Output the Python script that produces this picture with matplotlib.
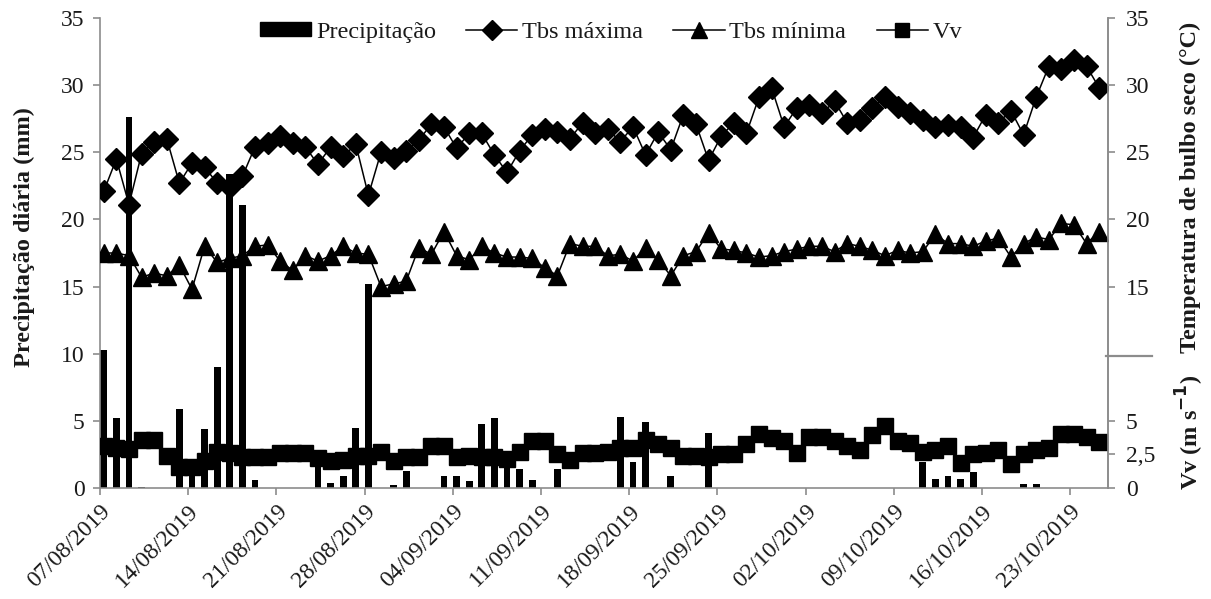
import numpy as np
import pandas as pd
import matplotlib
matplotlib.use("Agg")
import matplotlib.pyplot as plt
import matplotlib.dates as mdates
from matplotlib.patches import Patch
from matplotlib.lines import Line2D
import matplotlib.transforms as mtransforms

plt.rcParams['font.family'] = ['Liberation Serif', 'DejaVu Serif']

start_date = "2019-08-07"
n_days = 80
dates = pd.date_range(start_date, periods=n_days, freq="D")

tbs_max = [22.1, 24.5, 21.1, 24.9, 25.8, 26.0, 22.7, 24.2, 23.9, 22.7,
           22.4, 23.2, 25.4, 25.7, 26.2, 25.7, 25.4, 24.1, 25.4, 24.7,
           25.6, 21.8, 25.0, 24.6, 25.1, 25.9, 27.1, 26.9, 25.3, 26.4,
           26.4, 24.8, 23.5, 25.1, 26.3, 26.7, 26.5, 26.0, 27.2, 26.4,
           26.7, 25.8, 26.9, 24.8, 26.5, 25.2, 27.8, 27.1, 24.4, 26.2,
           27.2, 26.4, 29.1, 29.8, 26.9, 28.3, 28.5, 27.9, 28.8, 27.2,
           27.4, 28.3, 29.1, 28.4, 27.9, 27.4, 26.9, 27.0, 26.9, 26.1,
           27.8, 27.2, 28.1, 26.3, 29.1, 31.4, 31.2, 31.9, 31.4, 29.8]

tbs_min = [17.5, 17.5, 17.3, 15.7, 16.0, 15.8, 16.6, 14.8, 18.0, 16.8,
           17.1, 17.3, 18.0, 18.1, 16.9, 16.2, 17.3, 16.9, 17.3, 18.0,
           17.5, 17.4, 15.0, 15.2, 15.4, 17.9, 17.4, 19.1, 17.3, 17.0,
           18.0, 17.5, 17.2, 17.2, 17.1, 16.4, 15.8, 18.2, 18.0, 18.0,
           17.3, 17.4, 16.9, 17.9, 17.0, 15.8, 17.3, 17.6, 19.0, 17.8,
           17.7, 17.5, 17.2, 17.3, 17.6, 17.8, 18.0, 18.0, 17.6, 18.2,
           18.0, 17.7, 17.3, 17.7, 17.5, 17.6, 18.9, 18.2, 18.2, 18.0,
           18.4, 18.6, 17.2, 18.2, 18.7, 18.5, 19.7, 19.6, 18.2, 19.1]

vv = [3.15, 3.0, 2.9, 3.55, 3.55, 2.4, 1.6, 1.6, 2.0, 2.65,
      2.6, 2.3, 2.3, 2.3, 2.6, 2.6, 2.6, 2.2, 2.0, 2.1,
      2.4, 2.4, 2.65, 2.0, 2.3, 2.3, 3.15, 3.15, 2.3, 2.4,
      2.3, 2.3, 2.15, 2.65, 3.5, 3.5, 2.5, 2.05, 2.6, 2.6,
      2.65, 3.0, 3.0, 3.55, 3.25, 3.0, 2.4, 2.4, 2.3, 2.5,
      2.5, 3.3, 4.0, 3.7, 3.5, 2.6, 3.8, 3.8, 3.5, 3.15,
      2.8, 3.95, 4.6, 3.5, 3.35, 2.65, 2.85, 3.1, 1.85, 2.5,
      2.6, 2.8, 1.8, 2.5, 2.8, 3.0, 4.0, 4.0, 3.8, 3.4]

precip = [10.3, 5.2, 27.6, 0.1, 0.0, 0.0, 5.9, 1.3, 4.4, 9.0,
          23.4, 21.1, 0.6, 0.0, 0.0, 0.0, 0.0, 1.8, 0.4, 0.9,
          4.5, 15.2, 0.0, 0.2, 1.3, 0.0, 0.0, 0.9, 0.9, 0.5,
          4.8, 5.2, 1.5, 1.4, 0.6, 0.0, 1.4, 0.0, 0.0, 0.0,
          0.0, 5.3, 1.9, 4.9, 0.0, 0.9, 0.0, 0.0, 4.1, 0.0,
          0.0, 0.0, 0.0, 0.0, 0.0, 0.0, 0.0, 0.0, 0.0, 0.0,
          0.0, 0.0, 0.0, 0.0, 0.0, 1.9, 0.7, 0.9, 0.7, 1.2,
          0.0, 0.0, 0.0, 0.3, 0.3, 0.0, 0.0, 0.0, 0.0, 0.0]

left_ticks = [0, 5, 10, 15, 20, 25, 30, 35]
right_ticks = [0, 2.5, 5, 15, 20, 25, 30, 35]
right_labels = ["0", "2,5", "5", "15", "20", "25", "30", "35"]
week_ticks = pd.date_range(start_date, periods=12, freq="7D")

gray = "#8c8c8c"
txt = "#1a1a1a"
fs = 17
fs_x = 17
fs_lab = 17.5

fig = plt.figure(figsize=(12.11, 5.99), dpi=100)
ax = fig.add_axes([100 / 1211, 111 / 599, 1008 / 1211, 470 / 599])

x = mdates.date2num(dates) + 0.3

ax.bar(x, precip, width=0.55, color="black", zorder=2)
ax.plot(x, tbs_max, color="black", lw=1.1, marker="D", ms=11.5, zorder=3)
ax.plot(x, tbs_min, color="black", lw=1.1, marker="^", ms=12.5, zorder=3)
ax.plot(x, vv, color="black", lw=1.1, marker="s", ms=12, zorder=3)

x0 = mdates.date2num(dates[0])
ax.set_xlim(x0, x0 + 80)
ax.set_ylim(0, 35)
ax.set_yticks(left_ticks)
ax.set_xticks(mdates.date2num(week_ticks))
ax.xaxis.set_major_formatter(mdates.DateFormatter("%d/%m/%Y"))
ax.tick_params(axis="x", labelsize=fs_x)
for lab in ax.get_xticklabels():
    lab.set_rotation(45)
    lab.set_ha("right")
    lab.set_rotation_mode("anchor")

ax.spines["top"].set_visible(False)
for s in ["left", "bottom", "right"]:
    ax.spines[s].set_color(gray)
    ax.spines[s].set_linewidth(1.2)
ax.tick_params(axis="both", colors=gray, labelcolor=txt, length=5, width=1.2)
ax.tick_params(axis="y", labelsize=fs, pad=6)
ax.tick_params(axis="x", pad=4)

ax2 = ax.twinx()
ax2.set_ylim(0, 35)
ax2.set_yticks(right_ticks)
ax2.set_yticklabels(right_labels)
for s in ["top", "left", "bottom"]:
    ax2.spines[s].set_visible(False)
ax2.spines["right"].set_color(gray)
ax2.spines["right"].set_linewidth(1.2)
ax2.tick_params(axis="y", colors=gray, labelcolor=txt, labelsize=fs, length=5, width=1.2, pad=8)

# break marker on the right axis
trans = mtransforms.blended_transform_factory(ax2.transAxes, ax2.transData)
ax2.add_line(Line2D([0.998, 1.044], [9.8, 9.8], transform=trans, color=gray, lw=1.6, clip_on=False))

fig.text(24 / 1211, 1 - 237 / 599, "Precipitação diária (mm)", rotation=90,
         ha="center", va="center", fontsize=fs_lab, fontweight="bold", color=txt)
fig.text(1190 / 1211, 1 - 187 / 599, "Temperatura de bulbo seco (°C)", rotation=90,
         ha="center", va="center", fontsize=fs_lab, fontweight="bold", color=txt)
fig.text(1190 / 1211, 1 - 432 / 599, r"Vv (m s$^{\mathbf{-1}}$)", rotation=90,
         ha="center", va="center", fontsize=fs_lab, fontweight="bold", color=txt)

handles = [
    Patch(facecolor="black", edgecolor="black", label="Precipitação"),
    Line2D([], [], color="black", lw=1.1, marker="D", ms=10, label="Tbs máxima"),
    Line2D([], [], color="black", lw=1.1, marker="^", ms=11, label="Tbs mínima"),
    Line2D([], [], color="black", lw=1.1, marker="s", ms=10, label="Vv"),
]
leg = ax.legend(handles=handles, loc="center", bbox_to_anchor=(0.507, 0.97), ncol=4,
                frameon=False, fontsize=fs_lab, handlelength=2.1, handleheight=0.55,
                columnspacing=1.25, handletextpad=0.2)
for t in leg.get_texts():
    t.set_color(txt)

fig.savefig("out.png", dpi=100)
